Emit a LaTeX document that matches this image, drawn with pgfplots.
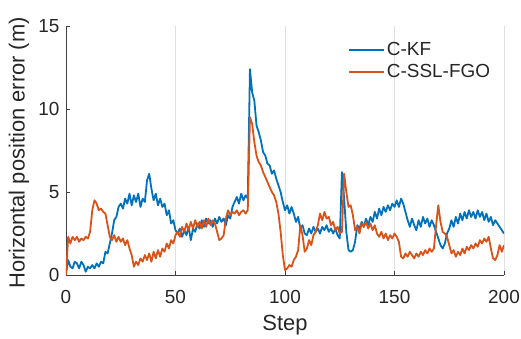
\documentclass[border=0pt]{standalone}
\usepackage{pgfplots}
\pgfplotsset{compat=1.18}
\usepackage{fontspec}
\setmainfont{Liberation Sans}
\definecolor{mblue}{rgb}{0,0.447,0.741}
\definecolor{morange}{rgb}{0.85,0.325,0.098}
\definecolor{axgray}{gray}{0.25}
\pgfplotstableread{
x y
0 0.1
1 0.9
2 0.5
3 0.4
4 0.8
5 0.7
6 0.4
7 0.8
8 0.6
9 0.2
10 0.5
11 0.4
12 0.6
13 0.4
14 0.7
15 0.5
16 0.8
17 0.7
18 1.4
19 1.3
20 1.9
21 2.5
22 3.3
23 3.5
24 4.1
25 4.3
26 4.0
27 4.6
28 4.3
29 4.9
30 4.2
31 4.8
32 4.4
33 4.9
34 4.1
35 4.6
36 4.4
37 5.7
38 6.1
39 5.2
40 4.5
41 4.9
42 4.2
43 4.6
44 4.1
45 4.3
46 3.6
47 3.9
48 3.1
49 3.3
50 2.7
51 2.5
52 2.8
53 2.3
54 2.7
55 2.4
56 2.9
57 2.1
58 2.8
59 2.6
60 3.1
61 2.8
62 3.3
63 2.9
64 3.4
65 3.1
66 3.3
67 2.9
68 3.4
69 3.1
70 3.5
71 3.2
72 3.4
73 3.0
74 3.6
75 3.4
76 4.1
77 4.4
78 4.7
79 4.3
80 4.9
81 4.5
82 4.8
83 4.6
84 12.4
85 11.0
86 10.5
87 9.0
88 8.6
89 8.1
90 7.4
91 7.2
92 6.7
93 6.6
94 6.1
95 6.3
96 5.8
97 5.4
98 5.0
99 4.4
100 3.9
101 4.2
102 3.7
103 4.1
104 3.7
105 3.2
106 3.5
107 2.8
108 3.0
109 2.5
110 2.4
111 2.8
112 2.5
113 2.9
114 2.6
115 2.8
116 2.5
117 2.9
118 2.7
119 3.0
120 2.6
121 2.8
122 2.5
123 2.8
124 2.4
125 2.2
126 6.2
127 4.6
128 2.6
129 1.5
130 1.4
131 1.5
132 2.0
133 3.0
134 2.8
135 3.2
136 2.9
137 3.4
138 3.0
139 3.5
140 3.2
141 3.8
142 3.4
143 4.0
144 3.6
145 4.1
146 3.8
147 4.2
148 3.9
149 4.3
150 4.1
151 4.5
152 4.1
153 4.6
154 4.3
155 3.8
156 3.3
157 2.9
158 3.4
159 3.0
160 2.7
161 3.3
162 2.9
163 3.5
164 3.1
165 3.4
166 2.9
167 3.3
168 3.0
169 2.6
170 2.2
171 1.8
172 1.6
173 1.9
174 2.5
175 2.8
176 3.3
177 2.9
178 3.5
179 3.1
180 3.7
181 3.3
182 3.8
183 3.4
184 3.9
185 3.5
186 3.8
187 3.4
188 3.9
189 3.5
190 3.8
191 3.3
192 3.7
193 3.2
194 3.5
195 3.0
196 3.3
197 3.1
198 2.9
199 2.7
200 2.5
}\kf
\pgfplotstableread{
x y
0 0.0
1 2.3
2 1.9
3 2.3
4 2.1
5 2.3
6 2.0
7 2.2
8 2.1
9 2.3
10 2.2
11 2.6
12 3.9
13 4.5
14 4.3
15 3.9
16 4.0
17 3.8
18 3.7
19 3.0
20 2.3
21 2.1
22 2.4
23 2.0
24 2.3
25 2.0
26 2.2
27 1.8
28 2.1
29 1.6
30 1.2
31 0.5
32 0.8
33 0.6
34 1.0
35 0.8
36 1.2
37 0.9
38 1.3
39 0.8
40 1.4
41 1.0
42 1.5
43 1.1
44 1.6
45 1.4
46 1.9
47 1.6
48 2.1
49 1.9
50 2.4
51 2.6
52 2.3
53 2.9
54 2.6
55 3.1
56 2.7
57 3.2
58 2.8
59 3.3
60 2.9
61 3.2
62 2.8
63 3.3
64 2.9
65 3.4
66 3.0
67 3.3
68 3.1
69 2.6
70 2.1
71 2.2
72 2.4
73 3.4
74 3.9
75 3.6
76 3.8
77 3.7
78 3.9
79 3.6
80 3.8
81 3.9
82 3.7
83 3.9
84 9.5
85 9.1
86 8.0
87 7.2
88 6.8
89 6.6
90 6.2
91 5.9
92 5.6
93 5.3
94 5.0
95 4.8
96 4.4
97 3.7
98 2.6
99 1.2
100 0.3
101 0.4
102 0.6
103 0.5
104 0.9
105 1.1
106 1.5
107 3.0
108 2.4
109 1.4
110 1.6
111 2.1
112 1.8
113 2.4
114 2.6
115 3.0
116 3.7
117 3.3
118 3.8
119 3.4
120 3.5
121 3.0
122 3.2
123 2.7
124 2.9
125 2.5
126 2.6
127 6.1
128 5.0
129 4.1
130 4.2
131 3.6
132 2.7
133 2.9
134 2.5
135 3.1
136 2.9
137 3.2
138 2.8
139 3.1
140 2.7
141 3.0
142 2.5
143 2.3
144 2.6
145 2.2
146 2.5
147 2.1
148 2.4
149 2.2
150 2.5
151 2.3
152 2.0
153 1.1
154 1.0
155 1.3
156 1.1
157 1.4
158 1.2
159 1.0
160 1.3
161 1.1
162 1.4
163 1.2
164 1.5
165 1.3
166 1.6
167 1.4
168 1.6
169 3.0
170 4.2
171 3.2
172 2.6
173 2.5
174 2.3
175 1.8
176 1.3
177 1.5
178 1.1
179 1.4
180 1.2
181 1.6
182 1.3
183 1.7
184 1.5
185 1.8
186 1.6
187 1.9
188 1.7
189 2.1
190 1.9
191 2.2
192 2.0
193 2.3
194 1.6
195 1.0
196 0.9
197 1.2
198 1.8
199 1.4
200 1.8
}\fgo
\begin{document}
\begin{tikzpicture}
\useasboundingbox (-66bp,-64bp) rectangle (455bp,275bp);
\begin{axis}[
  at={(0,0)}, anchor=south west,
  scale only axis, width=438bp, height=249bp,
  xmin=0, xmax=200, ymin=0, ymax=15,
  xtick={0,50,100,150,200}, ytick={0,5,10,15},
  axis x line*=bottom, axis y line*=left,
  axis line style={axgray, line width=0.6bp, -},
  tick align=inside, major tick length=4bp,
  tick style={axgray, line width=0.6bp},
  xmajorgrids, grid style={gray!25, line width=0.6bp},
  /pgf/number format/assume math mode=true,
  tick label style={font=\fontsize{19}{22}\selectfont, text=black!85},
  xticklabel shift=12bp,
  yticklabel shift=3bp,
  label style={font=\fontsize{22}{26}\selectfont, text=black!85},
  xlabel={Step},
  xlabel style={yshift=-4bp},
  ylabel={Horizontal position error (m)},
  ylabel style={at={(axis description cs:-0.076,0.49)}, anchor=south},
  legend cell align=left,
  legend style={at={(0.637,0.95)}, anchor=north west, draw=none, fill=none,
    font=\fontsize{19}{22}\selectfont, text=black!85, row sep=3bp},
  legend image code/.code={\draw[#1] (0bp,0bp) -- (35bp,0bp);},
]
\addplot[mblue, line width=1.8bp, line join=round] table[x=x,y=y] {\kf};
\addlegendentry{C-KF}
\addplot[morange, line width=1.8bp, line join=round] table[x=x,y=y] {\fgo};
\addlegendentry{C-SSL-FGO}
\end{axis}
\end{tikzpicture}
\end{document}
